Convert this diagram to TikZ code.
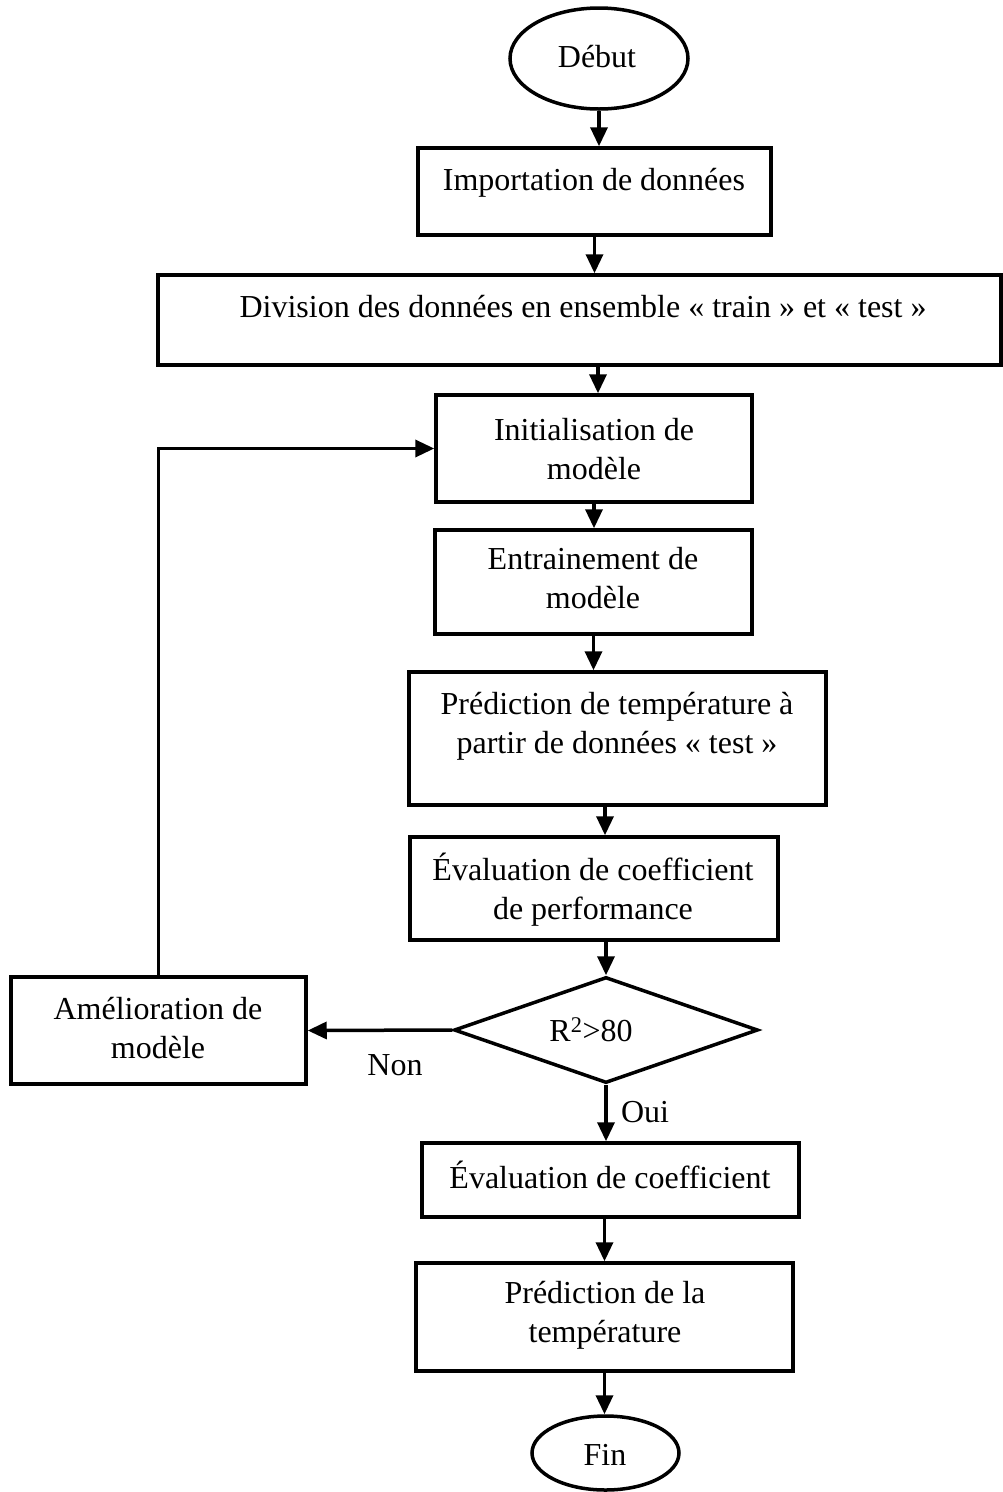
\documentclass[tikz,border=0pt]{standalone}
\usepackage{fontspec}
\setmainfont{Liberation Serif}
\usetikzlibrary{arrows.meta,shapes.geometric}
\tikzset{
  box/.style={draw, line width=3.5pt, rectangle, inner sep=0pt},
  oval/.style={draw, line width=3.5pt, ellipse, inner sep=0pt},
  decision/.style={draw, line width=3.5pt, diamond, inner sep=0pt},
  txt/.style={font=\fontsize{32}{39}\selectfont, align=center, inner sep=0pt},
  arr/.style={line width=3.5pt, -{Triangle[length=19pt,width=17pt]}},
}
\begin{document}
\begin{tikzpicture}[x=1pt,y=-1pt]
\fill[white] (0,0) rectangle (1003,1492);
\useasboundingbox (0,0) rectangle (1003,1492);

% shapes
\node[oval, minimum width=178pt, minimum height=101pt] (deb) at (599,58.5) {};
\node[box, minimum width=353pt, minimum height=87pt] (imp) at (594.5,191.5) {};
\node[box, minimum width=843pt, minimum height=90pt] (div) at (579.5,320) {};
\node[box, minimum width=316pt, minimum height=107pt] (init) at (594,448.5) {};
\node[box, minimum width=317pt, minimum height=104pt] (entr) at (593.5,582) {};
\node[box, minimum width=417pt, minimum height=133pt] (pred) at (617.5,738.5) {};
\node[box, minimum width=368pt, minimum height=103pt] (eval) at (594,888.5) {};
\node[decision, minimum width=304pt, minimum height=106pt] (dia) at (606,1030) {};
\node[box, minimum width=295pt, minimum height=107pt] (amel) at (158.5,1030.5) {};
\node[box, minimum width=377pt, minimum height=74pt] (evc) at (610.5,1180) {};
\node[box, minimum width=377pt, minimum height=108pt] (pred2) at (604.5,1317) {};
\node[oval, minimum width=147pt, minimum height=74pt] (fin) at (605.5,1453) {};

% texts
\node[txt] (tdeb) at (597,57) {Début};
\node[txt] (timp) at (594,183) {Importation de données};
\node[txt] (tdiv) at (583,307) {Division des données en ensemble « train » et « test »};
\node[txt] (tinit) at (594,449) {Initialisation de\\modèle};
\node[txt] (tentr) at (593,578) {Entrainement de\\modèle};
\node[txt] (tpred) at (617,726) {Prédiction de température à\\partir de données « test »};
\node[txt] (teval) at (593,890) {Évaluation de coefficient\\de performance};
\node[txt] (tdia) at (591,1030) {R\textsuperscript{2}>80};
\node[txt] (tamel) at (158,1028) {Amélioration de\\modèle};
\node[txt] (tnon) at (395,1065) {Non};
\node[txt] (toui) at (645,1112) {Oui};
\node[txt] (tevc) at (610,1175) {Évaluation de coefficient};
\node[txt] (tpred2) at (605,1315) {Prédiction de la\\température};
\node[txt] (tfin) at (605,1455) {Fin};

% connectors
\draw[arr] (deb.south) -- (deb.south |- imp.north);
\draw[arr] (imp.south) -- (imp.south |- div.north);
\draw[arr] ([xshift=4pt]init.north |- div.south) -- ([xshift=4pt]init.north);
\draw[arr] (init.south) -- (init.south |- entr.north);
\draw[arr] (entr.south) -- (entr.south |- pred.north);
\draw[arr] ([xshift=11pt]eval.north |- pred.south) -- ([xshift=11pt]eval.north);
\draw[arr] (dia.north |- eval.south) -- (dia.north);
\draw[arr] (dia.west) -- (amel.east);
\draw[arr] (amel.north) |- (init.west);
\draw[arr] (dia.south) -- (dia.south |- evc.north);
\draw[arr] (pred2.north |- evc.south) -- (pred2.north);
\draw[arr] (pred2.south) -- (pred2.south |- fin.north);
\end{tikzpicture}
\end{document}
